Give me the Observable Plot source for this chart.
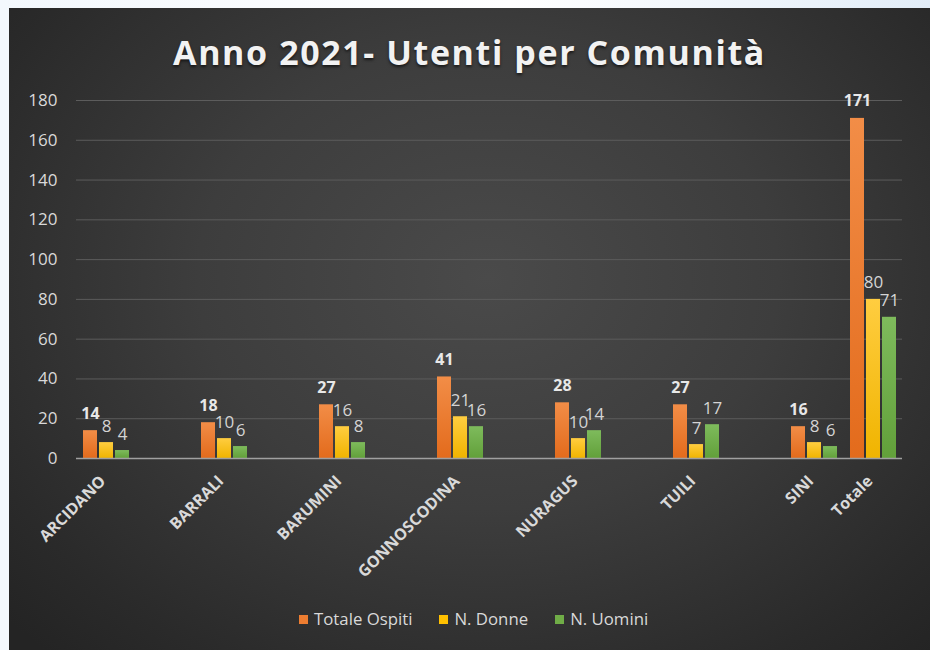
<!DOCTYPE html>
<html>
<head>
<meta charset="utf-8">
<script src="https://cdn.jsdelivr.net/npm/d3@7"></script>
<script src="https://cdn.jsdelivr.net/npm/@observablehq/plot@0.6"></script>
<style>
html, body { margin: 0; padding: 0; width: 930px; height: 650px; overflow: hidden; }
body { background: linear-gradient(90deg, #f3f8fd 0%, #ffffff 55%, #e2edf8 100%); font-family: "Open Sans", sans-serif; position: relative; }
#panel { position: absolute; left: 9px; top: 8px; width: 921px; height: 642px;
  background: radial-gradient(ellipse 70% 80% at 52% 42%, #4a4a4a 0%, #3d3d3d 45%, #2a2a2a 85%, #242424 100%); }
#title { position: absolute; left: 9px; width: 921px; top: 29px; text-align: center; font-weight: 700; font-size: 34px;
  color: #f2f2f2; letter-spacing: 1.6px; text-shadow: 0 2px 3px rgba(0,0,0,0.6); line-height: 46px; }
#chart { position: absolute; left: 0; top: 80px; }
#legend { position: absolute; top: 608px; left: 299px; display: flex; align-items: center; font-size: 16.8px; color: #d9d9d9; line-height: 22px; }
#legend .item { display: flex; align-items: center; margin-right: 27px; }
#legend .sw { width: 9px; height: 9px; margin-right: 6px; }
</style>
</head>
<body>
<div id="panel"></div>
<div id="title">Anno 2021- Utenti per Comunità</div>
<div id="chart"></div>
<div id="legend"></div>
<script>
// ---- data ----
const categories = ["ARCIDANO", "BARRALI", "BARUMINI", "GONNOSCODINA", "NURAGUS", "TUILI", "SINI", "Totale"];
const series = ["Totale Ospiti", "N. Donne", "N. Uomini"];
const totaleOspiti = [14, 18, 27, 41, 28, 27, 16, 171];
const nDonne = [8, 10, 16, 21, 10, 7, 8, 80];
const nUomini = [4, 6, 8, 16, 14, 17, 6, 71];
const yTicks = [0, 20, 40, 60, 80, 100, 120, 140, 160, 180];
const colors = ["#ED7D31", "#FFC000", "#70AD47"];

// empty spreadsheet columns between the communities (none between SINI and Totale)
const slots = [];
categories.forEach((c, i) => { slots.push(c); if (i < categories.length - 2) slots.push("gap" + i); });

const seriesValues = [totaleOspiti, nDonne, nUomini];
const rows = categories.flatMap((c, i) => series.map((s, k) => ({ cat: c, serie: s, k, value: seriesValues[k][i] })));
const gridRows = slots.flatMap(s => yTicks.map(t => ({ slot: s, t })));

const chart = Plot.plot({
  width: 930,
  height: 520,
  marginLeft: 72,
  marginRight: 24,
  marginTop: 20,
  marginBottom: 142,
  style: { background: "transparent", color: "#d9d9d9", fontFamily: "Open Sans, sans-serif" },
  fx: { domain: slots, padding: 0, axis: null },
  x: { domain: series, paddingInner: 0.15, paddingOuter: 0.38, axis: null },
  y: { domain: [0, 180], axis: null },
  marks: [
    Plot.ruleY(gridRows.filter(d => d.t > 0), { fx: "slot", y: "t", stroke: "#5c5c5c", strokeWidth: 1 }),
    ...series.map((s, k) => Plot.barY(rows.filter(r => r.k === k), {
      fx: "cat", x: "serie", y: "value", fill: `url(#grad${k})`
    })),
    Plot.ruleY(gridRows.filter(d => d.t === 0), { fx: "slot", y: "t", stroke: "#a0a0a0", strokeWidth: 1.6 }),
    Plot.text(rows.filter(r => r.k === 0), {
      fx: "cat", x: "serie", y: "value", text: d => String(d.value), lineAnchor: "bottom", dy: -12,
      fontWeight: "bold", fontSize: 16, fill: "#e8e8e8"
    }),
    Plot.text(rows.filter(r => r.k > 0), {
      fx: "cat", x: "serie", y: "value", text: d => String(d.value), lineAnchor: "bottom", dy: -11,
      fontSize: 17, fill: "#d4d4d4"
    }),
    Plot.axisY({ ticks: yTicks, tickSize: 0, tickPadding: 19, fontSize: 17, label: null, color: "#d9d9d9" }),
    Plot.axisFx({ anchor: "bottom", tickRotate: -45, tickSize: 0, tickPadding: 20, dx: -3, fontSize: 16, fontWeight: "bold", label: null,
      color: "#d9d9d9", tickFormat: d => d.startsWith("gap") ? "" : d })
  ]
});

// vertical gradients for the bars
const defs = d3.select(chart).insert("defs", ":first-child");
const stops = [["#F28D47", "#E36B1C"], ["#FFCD40", "#F0B400"], ["#7EBB5C", "#62A03A"]];
stops.forEach(([top, bottom], k) => {
  const g = defs.append("linearGradient").attr("id", `grad${k}`).attr("x1", 0).attr("y1", 0).attr("x2", 0).attr("y2", 1);
  g.append("stop").attr("offset", "0%").attr("stop-color", top);
  g.append("stop").attr("offset", "100%").attr("stop-color", bottom);
});

document.getElementById("chart").appendChild(chart);

// legend
const legend = d3.select("#legend");
series.forEach((s, k) => {
  const item = legend.append("div").attr("class", "item");
  item.append("div").attr("class", "sw").style("background", colors[k]);
  item.append("span").text(s);
});
</script>
</body>
</html>
